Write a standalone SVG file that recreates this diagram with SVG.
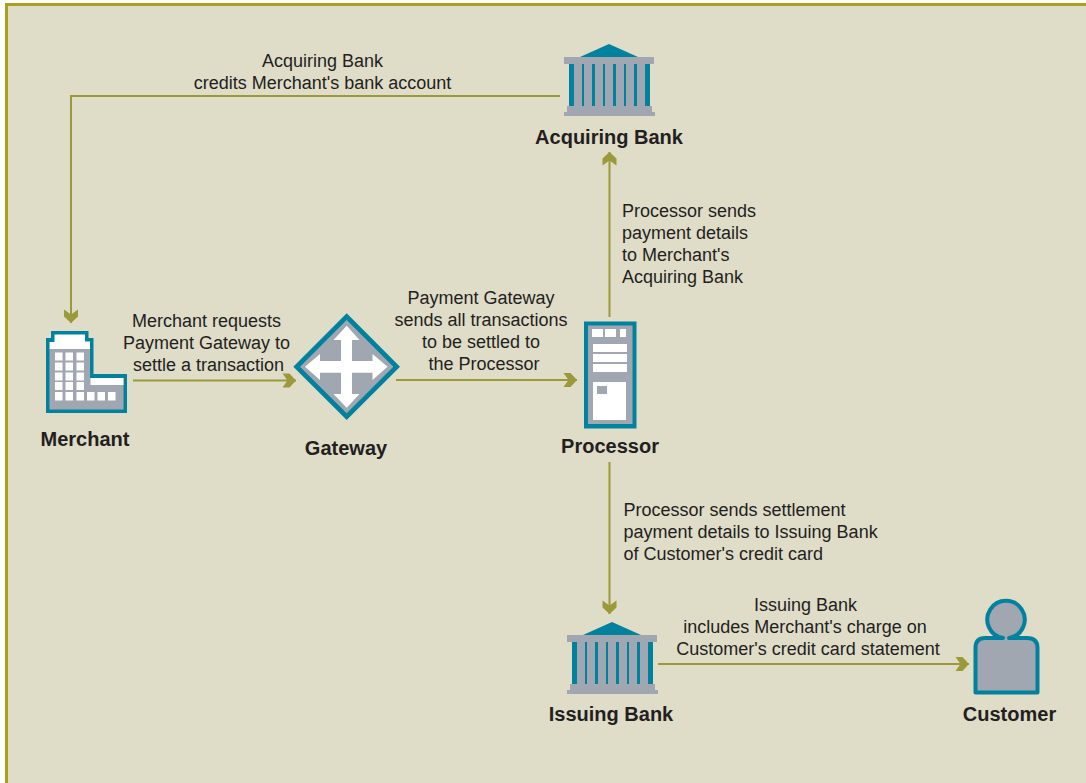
<svg xmlns="http://www.w3.org/2000/svg" width="1086" height="783" viewBox="0 0 1086 783">
<style>
text{font-family:"Liberation Sans",Arial,sans-serif;fill:#231f20}
.t{font-size:18px}
.b{font-size:20px;font-weight:bold}
.m{text-anchor:middle}
.c{fill:none;stroke:#9a9a3b;stroke-width:2}
.teal{fill:#00829f}
.gray{fill:#a1a7b0}
.w{fill:#fff}
</style>
<defs>
<marker id="ah" markerUnits="userSpaceOnUse" markerWidth="14" markerHeight="14" refX="14" refY="7" orient="auto" overflow="visible">
<polygon points="14,7 7.500,14 0.500,14 5.500,7 0.500,0 7.500,0" fill="#9a9a3b"/>
</marker>
<g id="bank">
<polygon class="teal" points="609,44 638,57 580,57"/>
<rect class="gray" x="564" y="57" width="90" height="7"/>
<rect class="gray" x="569" y="64" width="81" height="43"/>
<g class="teal">
<rect x="569" y="64" width="5" height="42"/><rect x="582" y="64" width="2" height="42"/>
<rect x="592" y="64" width="3" height="42"/><rect x="603" y="64" width="2" height="42"/>
<rect x="613" y="64" width="3" height="42"/><rect x="624" y="64" width="2" height="42"/>
<rect x="634" y="64" width="3" height="42"/><rect x="645" y="64" width="5" height="42"/>
</g>
<polygon class="gray" points="567,106 652,106 652,112 655,112 655,116 564,116 564,112 567,112"/>
</g>
</defs>
<rect width="1086" height="783" fill="#fff"/>
<rect x="6.500" y="4.500" width="1090" height="790" fill="#dfdcc8" stroke="#a8a01e" stroke-width="3"/>
<g id="connectors">
<path class="c" marker-end="url(#ah)" d="M560 96H71V323"/>
<path class="c" marker-end="url(#ah)" d="M133 380.500H296"/>
<path class="c" marker-end="url(#ah)" d="M396 380H577"/>
<path class="c" marker-end="url(#ah)" d="M609.500 317V152"/>
<path class="c" marker-end="url(#ah)" d="M609.500 462V614"/>
<path class="c" marker-end="url(#ah)" d="M658 664H969"/>
</g>
<g id="acquiring-bank"><use href="#bank"/><text class="b m" x="609" y="144">Acquiring Bank</text></g>
<g id="merchant">
<polygon class="teal" points="46,413 46,338 51,338 51,331 88.500,331 88.500,338 93.500,338 93.500,374 127,374 127,413"/>
<polygon class="gray" points="49.500,349 90,349 90,378 123.500,378 123.500,409.500 49.500,409.500"/>
<polygon class="w" points="49.500,349 49.500,342 54.500,342 54.500,334.500 85,334.500 85,341.500 90,341.500 90,349"/>
<rect class="w" x="90.500" y="378" width="33" height="7"/>
<g class="w">
<rect x="55" y="352.500" width="7.500" height="8"/><rect x="65.500" y="352.500" width="7.500" height="8"/><rect x="76.500" y="352.500" width="7.500" height="8"/>
<rect x="55" y="362.500" width="7.500" height="8"/><rect x="65.500" y="362.500" width="7.500" height="8"/><rect x="76.500" y="362.500" width="7.500" height="8"/>
<rect x="55" y="372.500" width="7.500" height="8"/><rect x="65.500" y="372.500" width="7.500" height="8"/><rect x="76.500" y="372.500" width="7.500" height="8"/>
<rect x="55" y="382" width="7.500" height="8"/><rect x="65.500" y="382" width="7.500" height="8"/><rect x="76.500" y="382" width="7.500" height="8"/>
<rect x="55" y="392" width="7.500" height="8.500"/><rect x="65.500" y="392" width="7.500" height="8.500"/><rect x="76.500" y="392" width="7.500" height="8.500"/><rect x="87" y="392" width="7.500" height="8.500"/><rect x="97.500" y="392" width="7.500" height="8.500"/><rect x="108" y="392" width="7.500" height="8.500"/>
</g>
<text class="b m" x="85" y="446">Merchant</text>
</g>
<g id="gateway">
<polygon class="teal" points="346.700,313.300 400,366.700 346.700,420 293.300,366.700"/>
<polygon class="gray" points="346.700,320 393.300,366.700 346.700,413.300 300,366.700"/>
<polygon class="w" points="346.700,325.700 359.500,340 352,340 352,361 372.500,361 372.500,354 387.500,366.700 372.500,380 372.500,372.700 352,372.700 352,394 359.500,394 346.700,407.700 333.500,394 341,394 341,372.700 320,372.700 320,380 305,366.700 320,354 320,361 341,361 341,340 333.500,340"/>
<text class="b m" x="346" y="455">Gateway</text>
</g>
<g id="processor">
<rect class="teal" x="584" y="321.500" width="52.500" height="107"/>
<rect class="gray" x="588" y="325.500" width="44.500" height="98.500"/>
<g class="w">
<rect x="592" y="329" width="11" height="8"/><rect x="605" y="329" width="11" height="8"/><rect x="620" y="329" width="6" height="8"/>
<rect x="593" y="344" width="34" height="8"/><rect x="593" y="354" width="34" height="8"/><rect x="593" y="364" width="34" height="8"/>
<rect x="593" y="382" width="33" height="38"/>
</g>
<rect class="gray" x="597" y="386" width="10" height="8"/>
<text class="b m" x="610" y="453">Processor</text>
</g>
<g id="issuing-bank"><use href="#bank" x="3" y="578"/><text class="b m" x="611" y="721">Issuing Bank</text></g>
<g id="customer">
<path class="gray" stroke="#00829f" stroke-width="4" stroke-linejoin="round" d="M1003 638H985Q975.500 638 975.500 648V692.500H1037.500V648Q1037.500 638 1027 638H1009A18.700 18.700 0 1 0 1003 638Z"/>
<text class="b m" x="1009.500" y="721">Customer</text>
</g>
<g id="labels">
<text class="t m" x="322.500" y="67">Acquiring Bank</text>
<text class="t m" x="322.500" y="89">credits Merchant's bank account</text>
<text class="t m" x="206.500" y="327">Merchant requests</text>
<text class="t m" x="206.500" y="349">Payment Gateway to</text>
<text class="t m" x="208.500" y="371">settle a transaction</text>
<text class="t m" x="481" y="304">Payment Gateway</text>
<text class="t m" x="481" y="326">sends all transactions</text>
<text class="t m" x="481" y="348">to be settled to</text>
<text class="t m" x="484" y="370">the Processor</text>
<text class="t" x="622" y="217">Processor sends</text>
<text class="t" x="622" y="239">payment details</text>
<text class="t" x="622" y="261">to Merchant's</text>
<text class="t" x="622" y="283">Acquiring Bank</text>
<text class="t" x="623.500" y="516">Processor sends settlement</text>
<text class="t" x="623.500" y="538">payment details to Issuing Bank</text>
<text class="t" x="623.500" y="560">of Customer's credit card</text>
<text class="t m" x="805.500" y="611">Issuing Bank</text>
<text class="t m" x="805" y="633">includes Merchant's charge on</text>
<text class="t m" x="808" y="655">Customer's credit card statement</text>
</g>
</svg>
